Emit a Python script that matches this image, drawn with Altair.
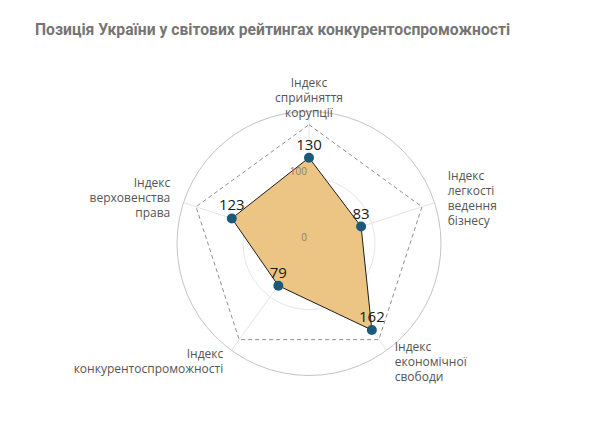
import math
import altair as alt
import pandas as pd

# ---- data ----
categories = [
    "Індекс\nсприйняття\nкорупції",
    "Індекс\nлегкості\nведення\nбізнесу",
    "Індекс\nекономічної\nсвободи",
    "Індекс\nконкурентоспроможності",
    "Індекс\nверховенства\nправа",
]
values = [130, 83, 162, 79, 123]
frame_value = 180          # dashed pentagon
grid_rings = [100, 200]    # circles
tick_labels = [0, 100]     # radial tick labels

title_text = "Позиція України у світових рейтингах конкурентоспроможності"

n = len(categories)
df = pd.DataFrame({"idx": list(range(n)), "cat": categories, "value": values})
# closed polygon: repeat first category at the end
df_closed = pd.concat([df, df.iloc[[0]].assign(idx=n)], ignore_index=True)
df_closed["frame"] = frame_value

rings_df = pd.DataFrame({"r": grid_rings})
ticks_df = pd.DataFrame({"t": tick_labels, "label": [str(t) for t in tick_labels]})

R = 132  # px radius of 200
DOM = [-200, 200]
UNITS_PER_PX = 400 / (2 * R)
LABEL_R = 221  # label distance in data units
LINE_H = 15
xs = alt.Scale(domain=DOM, nice=False, zero=False)
ys = alt.Scale(domain=DOM, nice=False, zero=False)

base = alt.Chart(df_closed).transform_calculate(
    ang=f"datum.idx * 2 * PI / {n}",
    nl="length(split(datum.cat, '\\n'))",
).transform_calculate(
    sx="sin(datum.ang)",
    sy="cos(datum.ang)",
).transform_calculate(
    vx="datum.value * datum.sx",
    vy="datum.value * datum.sy",
    fx="datum.frame * datum.sx",
    fy="datum.frame * datum.sy",
    ex="200 * datum.sx",
    ey="200 * datum.sy",
    lx=f"{LABEL_R} * datum.sx",
    ly=f"{LABEL_R} * datum.sy + (datum.nl - 1) * {LINE_H / 2} * {UNITS_PER_PX}",
    zero="0",
)

rscale = alt.Scale(type="linear", domain=[0, 200], range=[0, R])

ring_inner = alt.Chart(rings_df).transform_filter("datum.r < 200").mark_arc(
    theta=0, theta2=2 * math.pi, filled=False, stroke="#e6e6e6", strokeWidth=1
).encode(radius=alt.Radius("r:Q", scale=rscale))

ring_outer = alt.Chart(rings_df).transform_filter("datum.r >= 200").mark_arc(
    theta=0, theta2=2 * math.pi, filled=False, stroke="#c4c4c4", strokeWidth=1
).encode(radius=alt.Radius("r:Q", scale=rscale))

spokes = base.transform_filter(f"datum.idx < {n}").mark_rule(
    color="#e4e4e4", strokeWidth=1
).encode(
    x=alt.X("zero:Q", scale=xs, axis=None),
    y=alt.Y("zero:Q", scale=ys, axis=None),
    x2="ex:Q",
    y2="ey:Q",
)

frame = base.mark_line(
    strokeDash=[4, 3], color="#8f8f8f", strokeWidth=1
).encode(
    x=alt.X("fx:Q", scale=xs, axis=None),
    y=alt.Y("fy:Q", scale=ys, axis=None),
    order=alt.Order("idx:Q"),
)

poly = base.mark_line(
    fill="#ecc584", stroke="#1e1e1e", strokeWidth=1
).encode(
    x=alt.X("vx:Q", scale=xs, axis=None),
    y=alt.Y("vy:Q", scale=ys, axis=None),
    order=alt.Order("idx:Q"),
)

pts = base.transform_filter(f"datum.idx < {n}").mark_circle(
    size=100, color="#1b5a7b", opacity=1
).encode(
    x=alt.X("vx:Q", scale=xs, axis=None),
    y=alt.Y("vy:Q", scale=ys, axis=None),
)

vlabels = base.transform_filter(f"datum.idx < {n}").mark_text(
    fontSize=15, font="Open Sans", color="#1a1a1a", dy=-13, baseline="middle"
).encode(
    x=alt.X("vx:Q", scale=xs, axis=None),
    y=alt.Y("vy:Q", scale=ys, axis=None),
    text=alt.Text("value:Q"),
)

tlabels = alt.Chart(ticks_df).transform_calculate(zero="0").mark_text(
    fontSize=10, font="Open Sans", color="#8a7f6c", align="right", dx=-2, dy=-5.5,
    baseline="middle"
).encode(
    x=alt.X("zero:Q", scale=xs, axis=None),
    y=alt.Y("t:Q", scale=ys, axis=None),
    text="label:N",
)

def cat_layer(flt, align):
    return base.transform_filter(f"datum.idx < {n}").transform_filter(flt).mark_text(
        fontSize=12, font="Open Sans", color="#555555", align=align,
        baseline="middle", lineBreak="\n", lineHeight=LINE_H
    ).encode(
        x=alt.X("lx:Q", scale=xs, axis=None),
        y=alt.Y("ly:Q", scale=ys, axis=None),
        text="cat:N",
    )

clab_c = cat_layer("abs(datum.sx) < 0.1", "center")
clab_r = cat_layer("datum.sx >= 0.1", "left")
clab_l = cat_layer("datum.sx <= -0.1", "right")

chart = alt.layer(
    ring_inner, ring_outer, spokes, poly, frame, pts, vlabels, tlabels,
    clab_c, clab_r, clab_l,
).properties(
    width=2 * R,
    height=2 * R,
    padding={"left": 169, "top": 103.5, "right": 151, "bottom": 45.5},
    autosize=alt.AutoSizeParams(type="none"),
    title=alt.TitleParams(
        title_text, anchor="start", frame="group", dx=-142, offset=38,
        font="Roboto", fontSize=15.7, fontWeight="bold", color="#757575",
    ),
).configure_view(strokeWidth=0)

chart.save("out.html", embed_options={"renderer": "svg", "actions": False})
